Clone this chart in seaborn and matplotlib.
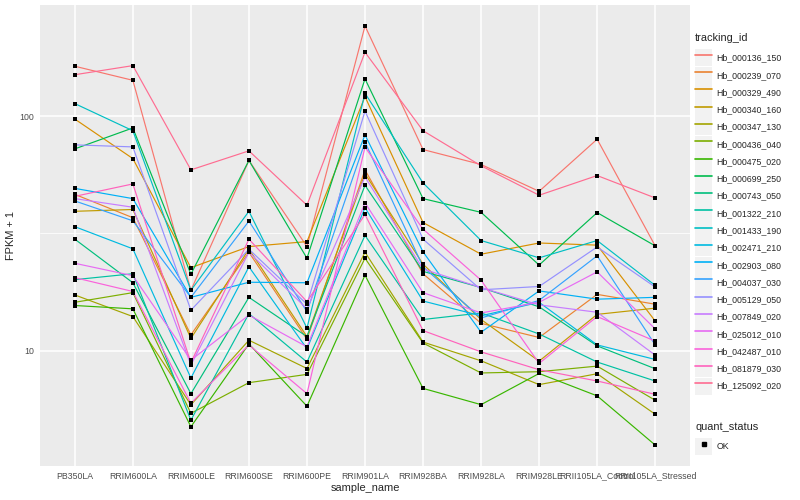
#librerias basicas
import numpy as np
import pandas as pd
import matplotlib
matplotlib.use("Agg")
import matplotlib.pyplot as plt
import seaborn as sns
from matplotlib.lines import Line2D
from matplotlib.patches import Rectangle
from matplotlib.legend_handler import HandlerLine2D
from matplotlib.ticker import FixedLocator, NullFormatter

#muestras (eje x)
samples = ["PB350LA", "RRIM600LA", "RRIM600LE", "RRIM600SE", "RRIM600PE", "RRIM901LA",
           "RRIM928BA", "RRIM928LA", "RRIM928LE", "RRII105LA_Control", "RRII105LA_Stressed"]

tracking_ids = ["Hb_000136_150", "Hb_000239_070", "Hb_000329_490", "Hb_000340_160",
                "Hb_000347_130", "Hb_000436_040", "Hb_000475_020", "Hb_000699_250",
                "Hb_000743_050", "Hb_001322_210", "Hb_001433_190", "Hb_002471_210",
                "Hb_002903_080", "Hb_004037_030", "Hb_005129_050", "Hb_007849_020",
                "Hb_025012_010", "Hb_042487_010", "Hb_081879_030", "Hb_125092_020"]

#FPKM + 1
hb_000136_150 = [163, 142, 18.1, 64.7, 27.8, 242, 72.0, 62.2, 47.8, 79.7, 28.0]
hb_000239_070 = [46.4, 36.9, 11.7, 26.3, 11.2, 59.0, 21.3, 13.1, 11.4, 17.4, 15.8]
hb_000329_490 = [97.1, 65.9, 22.6, 27.8, 29.2, 121, 35.2, 25.8, 28.8, 28.2, 13.4]
hb_000340_160 = [39.3, 40.0, 11.3, 27.1, 11.5, 56.8, 23.4, 13.6, 9.04, 14.3, 15.2]
hb_000347_130 = [17.3, 14.0, 5.89, 11.1, 8.41, 26.3, 10.9, 9.07, 7.18, 7.99, 5.37]
hb_000436_040 = [16.1, 17.7, 5.42, 7.32, 7.94, 24.8, 10.8, 8.05, 8.15, 8.61, 6.16]
hb_000475_020 = [15.6, 15.1, 4.75, 10.7, 5.81, 21.0, 6.92, 5.90, 8.01, 6.43, 3.97]
hb_000699_250 = [72.5, 89.0, 21.2, 64.7, 24.8, 144, 44.5, 38.9, 23.2, 38.8, 28.0]
hb_000743_050 = [29.9, 19.5, 6.57, 16.9, 11.5, 50.7, 21.8, 18.6, 15.4, 10.5, 8.39]
hb_001322_210 = [20.1, 21.3, 5.07, 14.4, 8.96, 31.0, 13.6, 14.5, 11.8, 8.96, 7.44]
hb_001433_190 = [113, 86.6, 18.1, 39.3, 12.5, 125, 51.9, 29.5, 24.9, 29.5, 19.0]
hb_002471_210 = [33.8, 27.2, 7.66, 22.8, 10.2, 40.7, 16.3, 14.1, 16.1, 10.6, 9.19]
hb_002903_080 = [49.2, 44.5, 16.9, 19.6, 19.5, 83.1, 26.4, 12.0, 18.0, 16.6, 16.9]
hb_004037_030 = [43.5, 35.8, 16.9, 35.7, 14.7, 77.4, 22.8, 13.8, 16.4, 25.4, 10.6]
hb_005129_050 = [75.4, 73.9, 14.9, 27.1, 15.8, 105, 29.9, 18.2, 18.8, 27.7, 18.7]
hb_007849_020 = [44.5, 40.9, 8.70, 26.3, 15.1, 55.0, 22.3, 18.6, 15.7, 14.6, 9.59]
hb_025012_010 = [23.6, 20.9, 9.13, 14.2, 10.4, 42.7, 17.7, 14.5, 16.1, 21.7, 12.4]
hb_042487_010 = [20.5, 17.9, 5.98, 10.6, 6.57, 73.7, 33.0, 20.0, 8.84, 14.0, 11.0]
hb_081879_030 = [45.5, 51.4, 8.90, 29.9, 16.2, 38.1, 12.2, 9.90, 8.31, 7.44, 6.53]
hb_125092_020 = [150, 164, 59.0, 71.1, 41.7, 187, 86.6, 61.4, 46.0, 55.8, 44.8]

valores = [hb_000136_150, hb_000239_070, hb_000329_490, hb_000340_160, hb_000347_130,
           hb_000436_040, hb_000475_020, hb_000699_250, hb_000743_050, hb_001322_210,
           hb_001433_190, hb_002471_210, hb_002903_080, hb_004037_030, hb_005129_050,
           hb_007849_020, hb_025012_010, hb_042487_010, hb_081879_030, hb_125092_020]

#paleta hue de ggplot para 20 niveles
colores = ["#F8766D", "#EA8331", "#D89000", "#C09B00", "#A3A500", "#7CAE00", "#39B600",
           "#00BB4E", "#00BF7D", "#00C1A3", "#00BFC4", "#00BAE0", "#00B0F6", "#35A2FF",
           "#9590FF", "#C77CFF", "#E76BF3", "#FA62DB", "#FF62BC", "#FF6C91"]

#tabla larga
filas = []
for tid, vals in zip(tracking_ids, valores):
    for s, v in zip(samples, vals):
        filas.append({"tracking_id": tid, "sample_name": s, "fpkm": v, "quant_status": "OK"})
df = pd.DataFrame(filas)

sns.set_style("darkgrid", {"axes.facecolor": "#EBEBEB", "grid.color": "white"})
plt.rcParams["font.family"] = ["Liberation Sans", "DejaVu Sans"]

fig, ax = plt.subplots(figsize=(8, 5), dpi=100)
fig.subplots_adjust(left=0.05, right=0.8625, top=0.99, bottom=0.068)

sns.lineplot(data=df, x="sample_name", y="fpkm", hue="tracking_id", hue_order=tracking_ids,
             palette=colores, estimator=None, sort=False, linewidth=0.85, legend=False, ax=ax)
sns.scatterplot(data=df, x="sample_name", y="fpkm", color="black", marker="s", s=11,
                linewidth=0, legend=False, ax=ax, zorder=3)

#escala log con expansion de 5%
ax.set_yscale("log")
lmin = np.log10(df["fpkm"].min())
lmax = np.log10(df["fpkm"].max())
rango = lmax - lmin
ax.set_ylim(10 ** (lmin - 0.05 * rango), 10 ** (lmax + 0.05 * rango))
ax.set_xlim(-0.6, len(samples) - 0.4)

ax.set_yticks([10, 100], labels=["10", "100"])
ax.yaxis.set_minor_locator(FixedLocator([10 ** 0.5, 10 ** 1.5, 10 ** 2.5]))
ax.yaxis.set_minor_formatter(NullFormatter())
ax.grid(which="major", color="white", linewidth=1.1)
ax.grid(which="minor", axis="y", color="white", linewidth=0.55)
ax.tick_params(which="minor", length=0)
ax.tick_params(which="major", length=2.5, width=0.8, color="#333333", labelsize=6.3,
               labelcolor="#4D4D4D", pad=1.5)
for s in ax.spines.values():
    s.set_visible(False)

ax.set_xlabel("sample_name", fontsize=7.9, labelpad=2)
ax.set_ylabel("FPKM + 1", fontsize=7.9, labelpad=3)


#clave de leyenda con fondo gris
class FondoClave(HandlerLine2D):
    def create_artists(self, legend, orig_handle, xdescent, ydescent, width, height, fontsize, trans):
        fondo = Rectangle((-xdescent, -ydescent), width, height, facecolor="#F2F2F2",
                          edgecolor="none", transform=trans)
        artistas = super().create_artists(legend, orig_handle, xdescent, ydescent, width,
                                          height, fontsize, trans)
        return [fondo] + list(artistas)


opciones = dict(loc="upper left", frameon=False, fontsize=6.3, title_fontsize=7.9,
                handlelength=1.95, handleheight=2.63, handletextpad=0.5, labelspacing=0.02,
                borderaxespad=0, borderpad=0, alignment="left",
                handler_map={Line2D: FondoClave()})

lineas = [Line2D([], [], color=c, linewidth=1.2) for c in colores]
leg1 = fig.legend(lineas, tracking_ids, title="tracking_id", bbox_to_anchor=(0.869, 0.934), **opciones)
leg1._legend_box.sep = 4.5

punto = [Line2D([], [], marker="s", color="black", linestyle="none", markersize=2.8)]
leg2 = fig.legend(punto, ["OK"], title="quant_status", bbox_to_anchor=(0.869, 0.156), **opciones)
leg2._legend_box.sep = 4.5

fig.savefig("out.png", dpi=100)
